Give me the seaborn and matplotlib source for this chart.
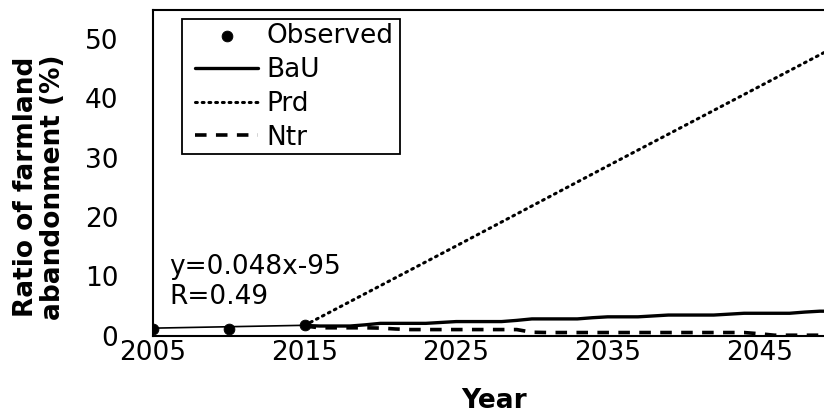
import matplotlib
matplotlib.use("Agg")
import matplotlib.pyplot as plt
from matplotlib.patches import Rectangle
import seaborn as sns
import numpy as np
import pandas as pd

# Observed ratio of farmland abandonment (%)
obs_years = [2005, 2010, 2015]
obs_values = [1.1, 1.1, 1.75]

# Scenario projections (%)
proj_years = list(range(2015, 2051))
bau_values = [1.7, 1.6, 1.6, 1.6, 1.8, 2.05, 2.05, 2.05, 2.05, 2.2,
              2.35, 2.35, 2.35, 2.35, 2.55, 2.8, 2.8, 2.8, 2.8, 3.0,
              3.15, 3.15, 3.15, 3.3, 3.45, 3.45, 3.45, 3.45, 3.6, 3.75,
              3.75, 3.75, 3.75, 3.95, 4.1, 4.1]
ntr_values = [1.6, 1.3, 1.3, 1.3, 1.3, 1.25, 1.1, 1.0, 1.0, 1.0,
              1.0, 1.0, 1.0, 1.0, 1.0, 0.55, 0.5, 0.5, 0.5, 0.5,
              0.5, 0.5, 0.5, 0.5, 0.5, 0.5, 0.5, 0.5, 0.5, 0.5,
              0.3, 0.05, 0.05, 0.05, 0.05, 0.05]
prd_years = [2015, 2025, 2035, 2050]
prd_values = [1.7, 15.1, 28.6, 48.7]

# Linear trend of the observed values
fit_slope = 0.048
fit_intercept = -95
fit_years = [2005, 2015]
fit_values = [fit_slope * y + fit_intercept for y in fit_years]

x_ticks = [2005, 2015, 2025, 2035, 2045]
y_ticks = [0, 10, 20, 30, 40, 50]

sns.set_theme(style="white")
plt.rcParams["font.family"] = ["DejaVu Sans"]
plt.rcParams["text.color"] = "black"
plt.rcParams["axes.labelcolor"] = "black"
FS = 19

W, H = 824, 416
fig = plt.figure(figsize=(W / 100, H / 100), dpi=100)
ax = fig.add_axes([153 / W, 80.5 / H, 682 / W, 326 / H])

proj = pd.DataFrame({"year": proj_years, "BaU": bau_values, "Ntr": ntr_values})
prd = pd.DataFrame({"year": prd_years, "Prd": prd_values})
obs = pd.DataFrame({"year": obs_years, "value": obs_values})
fit = pd.DataFrame({"year": fit_years, "value": fit_values})

sns.lineplot(data=fit, x="year", y="value", ax=ax, color="black", lw=1.2)
sns.lineplot(data=proj, x="year", y="BaU", ax=ax, color="black", lw=2.4,
             label="BaU")
sns.lineplot(data=prd, x="year", y="Prd", ax=ax, color="black", lw=2.2,
             linestyle=(0, (0.6, 1.6)), dash_capstyle="round", label="Prd")
sns.lineplot(data=proj, x="year", y="Ntr", ax=ax, color="black", lw=2.6,
             linestyle=(0, (3.2, 2.6)), label="Ntr")
sns.scatterplot(data=obs, x="year", y="value", ax=ax, color="black", s=60,
                edgecolor="black", zorder=5, label="Observed")

ax.set_xlim(2005, 2050)
ax.set_ylim(0, 55)
ax.set_xticks(x_ticks)
ax.set_yticks(y_ticks)
ax.tick_params(axis="both", direction="in", length=6, width=1.2,
               labelsize=FS, colors="black")
ax.tick_params(axis="y", pad=25)
ax.tick_params(axis="x", pad=3)
for s in ax.spines.values():
    s.set_color("black")
    s.set_linewidth(1.5)

ax.set_xlabel("Year", fontsize=FS, fontweight="bold", labelpad=16)
ax.set_ylabel("Ratio of farmland\nabandonment (%)", fontsize=FS,
              fontweight="bold", linespacing=1.05)
ax.yaxis.set_label_coords(-0.128, 0.455)

ax.text(2006.1, 9.0, "y=0.048x-95\nR=0.49", fontsize=FS, color="black",
        ha="left", va="center", linespacing=1.2)

# Legend entries without their own frame; a plain box is drawn around them
handles, labels = ax.get_legend_handles_labels()
order = ["Observed", "BaU", "Prd", "Ntr"]
hmap = dict(zip(labels, handles))
leg = ax.legend([hmap[k] for k in order], order, loc="upper left",
                bbox_to_anchor=(191 / W, 1 - 19 / H),
                bbox_transform=fig.transFigure, fontsize=FS, frameon=False,
                borderaxespad=0, borderpad=0.15, labelspacing=0.3,
                handlelength=2.4, handletextpad=0.3)
fig.patches.append(Rectangle((182 / W, 1 - 154 / H), 218 / W, 135 / H,
                             transform=fig.transFigure, fill=False,
                             edgecolor="black", linewidth=1.3, zorder=10))

fig.savefig("out.png", dpi=100)
